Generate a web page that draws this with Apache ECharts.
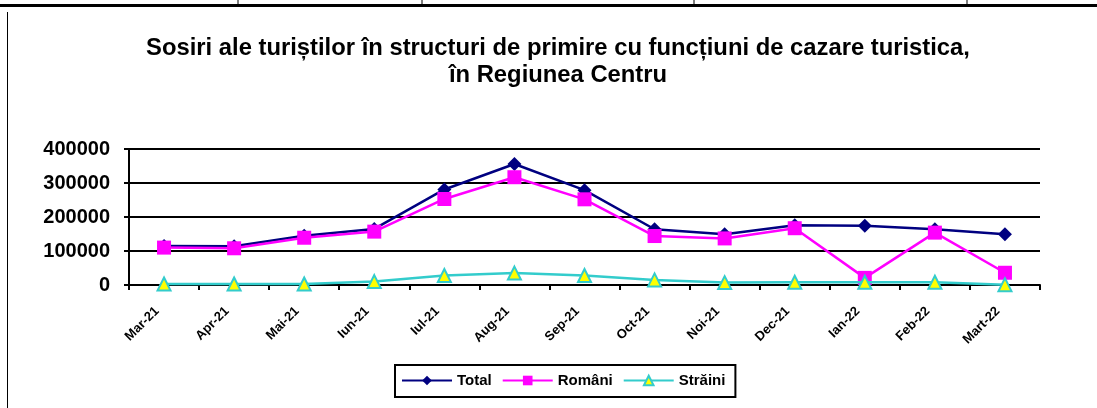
<!DOCTYPE html>
<html>
<head>
<meta charset="utf-8">
<script src="https://cdn.jsdelivr.net/npm/echarts@6/dist/echarts.min.js"></script>
<style>
html,body{margin:0;padding:0;background:#fff;}
#c{width:1097px;height:408px;}
</style>
</head>
<body>
<div id="c"></div>
<script>
const categories = ['Mar-21','Apr-21','Mai-21','Iun-21','Iul-21','Aug-21','Sep-21','Oct-21','Noi-21','Dec-21','Ian-22','Feb-22','Mart-22'];
const total   = [115000,114000,145000,165000,281000,356000,279000,164000,149000,176000,174000,164000,149000];
const romani  = [110000,108000,139000,157000,253000,317000,252000,144000,137000,167000,21000,154000,36000];
const straini = [3000,3000,3000,10000,28000,35000,28000,15000,7000,8000,8000,8000,1000];
const yTicks = [0,100000,200000,300000,400000];

const chart = echarts.init(document.getElementById('c'));
const font = 'Arial, "Liberation Sans", sans-serif';
chart.setOption({
  animation: false,
  backgroundColor: '#fff',
  title: {
    text: 'Sosiri ale turiștilor în structuri de primire cu funcțiuni de cazare turistica,\nîn Regiunea Centru',
    left: 553, top: 30, textAlign: 'center',
    textStyle: {fontFamily: font, fontWeight: 'bold', fontSize: 23.8, lineHeight: 27, color: '#000'}
  },
  graphic: [
    {type:'rect', shape:{x:0,y:4,width:1097,height:3}, style:{fill:'#000'}},
    {type:'line', shape:{x1:238,y1:0,x2:238,y2:5}, style:{stroke:'#000',lineWidth:1}},
    {type:'line', shape:{x1:422,y1:0,x2:422,y2:5}, style:{stroke:'#000',lineWidth:1}},
    {type:'line', shape:{x1:694,y1:0,x2:694,y2:5}, style:{stroke:'#000',lineWidth:1}},
    {type:'line', shape:{x1:967,y1:0,x2:967,y2:5}, style:{stroke:'#000',lineWidth:1}},
    {type:'line', shape:{x1:7.5,y1:12,x2:7.5,y2:408}, style:{stroke:'#000',lineWidth:1}}
  ],
  legend: {
    left: 395, top: 365,
    itemWidth: 50, itemHeight: 12, itemGap: 10,
    padding: [8, 10, 9, 6],
    borderColor: '#000', borderWidth: 2,
    textStyle: {fontFamily: font, fontWeight: 'bold', fontSize: 15, color: '#000'},
    data: ['Total','Români','Străini']
  },
  grid: {left: 129, right: 57, top: 149, bottom: 123, containLabel: false},
  xAxis: {
    type: 'category', data: categories, boundaryGap: true,
    axisLine: {lineStyle: {color: '#000', width: 2}},
    axisTick: {show: true, length: 5, lineStyle: {color: '#000', width: 2}},
    axisLabel: {rotate: 45, margin: 17, padding: [0, 10, 0, 0], fontFamily: font, fontWeight: 'bold', fontSize: 13, color: '#000', interval: 0}
  },
  yAxis: {
    type: 'value', min: 0, max: 400000, interval: 100000,
    axisLine: {show: true, lineStyle: {color: '#000', width: 2}},
    axisTick: {show: true, length: 5, lineStyle: {color: '#000', width: 2}},
    splitLine: {show: true, lineStyle: {color: '#000', width: 2}},
    axisLabel: {fontFamily: font, fontWeight: 'bold', fontSize: 20, color: '#000', margin: 19,
      formatter: v => yTicks.includes(v) ? String(v) : ''}
  },
  series: [
    {name: 'Total', type: 'line', data: total, symbol: 'diamond', symbolSize: 14,
      lineStyle: {color: '#000080', width: 2.5}, itemStyle: {color: '#000080'}, z: 3},
    {name: 'Români', type: 'line', data: romani, symbol: 'rect', symbolSize: 14,
      lineStyle: {color: '#FF00FF', width: 2.5}, itemStyle: {color: '#FF00FF'}, z: 4},
    {name: 'Străini', type: 'line', data: straini, symbol: 'triangle', symbolSize: 13,
      lineStyle: {color: '#33CCCC', width: 2.5}, itemStyle: {color: '#FFFF00', borderColor: '#33CCCC', borderWidth: 2}, z: 5}
  ]
});
</script>
</body>
</html>
